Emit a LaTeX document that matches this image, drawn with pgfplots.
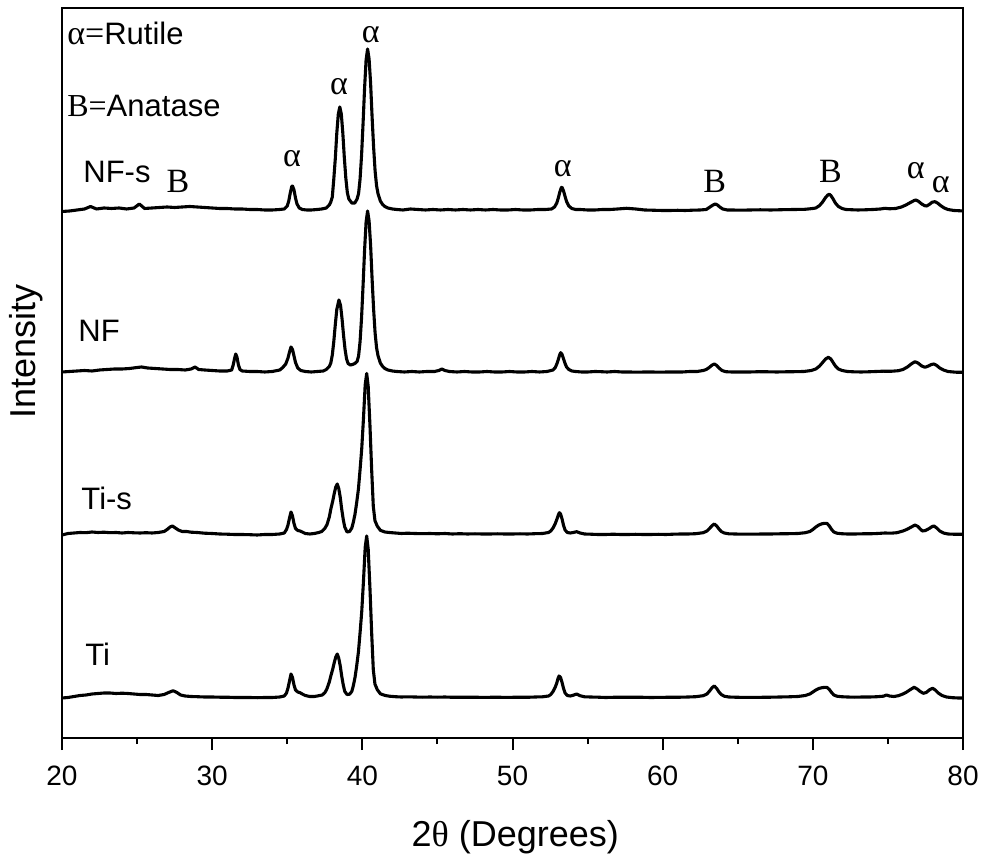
\documentclass[border=0pt]{standalone}
\usepackage{fontspec}
\setmainfont{Liberation Sans}
\newfontfamily\serif{Liberation Serif}
\usepackage{pgfplots}
\pgfplotsset{compat=1.18}
\begin{document}
\begin{tikzpicture}
\begin{axis}[
  scale only axis, width=450.5pt, height=365pt,
  xmin=20, xmax=80, ymin=0, ymax=730,
  xtick={20,30,...,80}, minor xtick={25,35,...,75},
  ytick=\empty,
  xtick pos=left, tick align=outside,
  major tick length=6pt, minor tick length=3pt,
  every tick/.style={black, line width=1pt},
  axis line style={line width=1.1pt},
  /pgf/number format/assume math mode=true,
  xticklabel style={font=\fontsize{14}{16}\selectfont, yshift=-4.5pt},
  xlabel={2{\serif θ} (Degrees)},
  xlabel style={font=\fontsize{18}{21}\selectfont, at={(axis description cs:0.503,-0.148)}, anchor=base},
  ylabel={Intensity},
  ylabel style={font=\fontsize{18}{21}\selectfont, at={(axis description cs:-0.04,0.529)}, anchor=center},
]
% NF-s
\addplot[black, line width=1.55pt, line join=round, mark=none] coordinates {(20.0,526.5)(20.5,527)(21.0,528)(21.5,529)(21.9,531.5)(22.3,529)(22.8,530)(23.3,529.5)(23.8,530)(24.3,529)(24.8,530)(25.15,534)(25.5,529.5)(26.0,530)(26.5,530.5)(27.0,531)(27.5,530.5)(28.0,531)(28.5,531.5)(29.0,531)(29.5,530.5)(30.0,530)(30.5,529.5)(31.0,529.5)(31.5,529)(32.0,529)(32.5,528.5)(33.0,528.5)(33.5,528)(34.0,528)(34.5,528.5)(34.8,529)(35.0,532)(35.1,537)(35.2,545)(35.3,551.5)(35.35,552)(35.45,548)(35.55,540)(35.65,534)(35.8,530)(36.0,528.5)(36.3,528)(36.6,528)(37.0,528.5)(37.3,529)(37.6,530)(37.8,533)(37.9,536)(38.0,541)(38.1,559)(38.2,579.5)(38.3,605)(38.4,624)(38.5,631)(38.6,624)(38.7,605)(38.8,580.5)(38.9,560)(39.0,545.5)(39.1,539)(39.3,535)(39.5,535)(39.65,539)(39.75,544.5)(39.85,559)(39.95,583)(40.05,615)(40.15,650)(40.25,678)(40.35,689)(40.45,679)(40.55,655)(40.65,621)(40.75,591)(40.85,567)(40.95,552)(41.05,544)(41.2,537)(41.35,533.5)(41.5,531.5)(41.7,530)(42.0,529)(42.3,528.5)(42.7,528)(43.2,529)(43.7,528.5)(44.2,528)(44.7,528.5)(45.2,528)(45.7,528.5)(46.2,528)(46.7,528.5)(47.2,528)(47.7,528.5)(48.2,528)(48.7,528.5)(49.2,528)(49.7,528)(50.2,528.5)(50.7,528)(51.2,528)(51.7,528.5)(52.2,528.5)(52.6,529)(52.8,531)(52.95,535)(53.05,540)(53.15,546)(53.25,550.5)(53.3,550.7)(53.4,547)(53.5,541.5)(53.6,536.5)(53.75,532)(53.95,529.5)(54.2,528.5)(54.5,528.5)(55,528)(55.5,528)(56,528.5)(56.5,528.5)(57,529)(57.6,529.7)(58.2,529)(58.8,528)(59.5,527.7)(60,527.5)(60.5,527.5)(61,527.7)(61.5,527.5)(62,527.8)(62.5,528)(62.9,528.5)(63.1,530.5)(63.3,532.5)(63.5,534)(63.65,533)(63.8,531)(64.0,529)(64.3,528)(64.6,528)(65.2,527.8)(65.8,528)(66.5,528.2)(67.2,528)(68,528.3)(68.8,528.5)(69.5,528.7)(70.0,529.5)(70.2,530)(70.45,532.5)(70.65,536)(70.85,540.5)(71.0,543)(71.1,543.7)(71.2,542.5)(71.35,539)(71.5,535)(71.7,531.5)(71.95,529.5)(72.2,528.5)(72.5,528.3)(73,528)(73.5,528.2)(74,528.5)(74.5,529)(74.8,529.7)(75.1,529.2)(75.5,529.5)(75.9,531)(76.2,533)(76.5,535.5)(76.75,537.5)(76.87,538)(77.05,536.5)(77.25,534)(77.45,532.3)(77.58,532)(77.75,533.5)(77.95,535.8)(78.13,536.3)(78.3,535)(78.5,532.5)(78.75,530)(79.0,528.5)(79.4,527.5)(79.8,527.2)(80.0,527)};
% NF
\addplot[black, line width=1.55pt, line join=round, mark=none] coordinates {(20.0,366)(20.5,366.5)(21.0,367)(21.5,367.5)(22.0,367)(22.5,368)(23.0,368.5)(23.5,369)(24.0,369)(24.5,369.5)(25.0,370.5)(25.3,371)(25.7,370)(26.2,369.5)(26.7,369)(27.2,368.5)(27.7,368.5)(28.2,368)(28.6,369)(28.86,371)(29.1,368.5)(29.5,368)(30.0,367.5)(30.5,367)(31.0,367)(31.3,368)(31.4,373)(31.5,380)(31.57,384)(31.65,381)(31.75,373)(31.85,368.5)(32.0,367)(32.5,366.5)(33.0,366.5)(33.5,366)(34.0,366.5)(34.5,368)(34.7,370.5)(34.9,374)(35.05,380)(35.15,386)(35.25,391)(35.35,388.5)(35.45,382)(35.55,375.5)(35.7,370)(35.9,367.5)(36.2,366.5)(36.6,366)(37.0,366.5)(37.4,367)(37.6,368.5)(37.8,371.5)(37.9,375)(38.0,383)(38.1,396.5)(38.2,413.5)(38.3,428.5)(38.44,438)(38.55,432.5)(38.65,419)(38.75,402.5)(38.85,388.5)(38.95,379)(39.05,374.5)(39.2,373)(39.35,373.5)(39.5,374.5)(39.65,376.5)(39.75,382)(39.85,396.5)(39.95,420.7)(40.05,453)(40.15,488)(40.25,516)(40.35,527)(40.45,517)(40.55,493)(40.65,459)(40.75,429)(40.85,405)(40.95,390)(41.05,382)(41.2,375)(41.35,371.6)(41.5,369.5)(41.7,368)(42.0,367)(42.3,366.5)(42.8,366)(43.3,366.5)(43.8,366)(44.3,366.5)(44.8,366.5)(45.1,367.5)(45.3,369)(45.5,367.5)(45.8,366.5)(46.3,366)(46.8,366.5)(47.3,366)(47.8,366)(48.3,366.5)(48.8,366)(49.3,366)(49.8,366.5)(50.3,366)(50.8,366)(51.3,366.5)(51.8,366)(52.3,366.5)(52.7,368)(52.85,370.5)(52.95,374)(53.05,378.5)(53.15,383.5)(53.21,385.3)(53.3,383.5)(53.4,379)(53.5,374.5)(53.6,371)(53.75,368.5)(53.95,367)(54.2,366.5)(54.6,366)(55.0,366)(55.5,366.5)(55.9,366.3)(56.3,366)(56.8,366.5)(57.3,366)(57.8,366)(58.3,365.8)(58.8,366)(59.3,366)(59.8,365.8)(60.3,366)(60.8,366)(61.3,366)(61.8,366.5)(62.3,366.5)(62.7,367.5)(62.9,368.5)(63.1,370.5)(63.3,373)(63.44,374)(63.6,372.5)(63.75,370)(63.95,367.5)(64.2,366.3)(64.6,366)(65.2,366)(65.8,366)(66.4,366.3)(67,366.2)(67.6,366)(68.2,366.2)(68.8,366.3)(69.4,366.5)(69.9,367.5)(70.2,369)(70.45,372)(70.65,375.5)(70.85,379)(71.03,380.7)(71.2,379)(71.35,375.5)(71.5,372)(71.7,369)(71.95,367.5)(72.3,366.5)(72.7,366.2)(73.2,366)(73.7,366.2)(74.2,366.5)(74.7,366.8)(75.2,366.7)(75.7,367.3)(76.0,368.5)(76.3,371)(76.55,374)(76.8,376.3)(77.0,375)(77.25,372)(77.47,370.7)(77.7,372)(77.9,373.5)(78.07,374)(78.25,372.5)(78.45,370)(78.7,368)(79.0,366.5)(79.5,365.8)(80.0,365.7)};
% Ti-s
\addplot[black, line width=1.55pt, line join=round, mark=none] coordinates {(20.0,203)(20.4,204.5)(20.8,205)(21.2,205.5)(21.6,205.3)(22.0,206)(22.4,205.5)(22.8,205.8)(23.2,205.3)(23.6,205.5)(24.0,205)(24.4,205.5)(24.8,205.2)(25.2,205)(25.6,205.3)(26.0,205)(26.4,205.5)(26.8,206.5)(27.0,208.5)(27.2,211)(27.35,212)(27.55,210)(27.75,208)(28.0,206.5)(28.3,206.5)(28.6,205.8)(29.0,205.5)(29.5,204.8)(30.0,204.5)(30.5,204)(31.0,203.8)(31.5,203.5)(32.0,203.5)(32.5,203.3)(33.0,203)(33.5,203.5)(34.0,203.5)(34.5,204)(34.8,205)(34.95,208.5)(35.05,213)(35.15,220)(35.25,226)(35.35,222)(35.45,214.5)(35.55,209.5)(35.7,207.5)(35.85,207)(36.0,206)(36.2,204.5)(36.5,204)(36.8,204.5)(37.1,205.5)(37.3,206.5)(37.5,209.5)(37.65,213.5)(37.8,221)(37.91,229.5)(38.03,237)(38.13,244.5)(38.23,251)(38.33,254)(38.43,249.5)(38.53,240.5)(38.62,229.5)(38.73,218.5)(38.83,211)(38.98,206)(39.15,206.5)(39.3,210)(39.4,215.7)(39.51,223.7)(39.62,235)(39.74,249)(39.85,268.5)(39.96,289.3)(40.07,318)(40.19,353.3)(40.29,364.5)(40.39,351.7)(40.51,311.7)(40.62,268.5)(40.73,231.7)(40.84,217.3)(41.0,211.7)(41.2,207.7)(41.5,206)(41.8,205.5)(42.2,205)(42.6,204.5)(43.0,204.8)(43.5,204.5)(44.0,204.3)(44.5,204.5)(45.0,204.2)(45.5,204.5)(46.0,204)(46.5,204.3)(47.0,204)(47.5,204.2)(48.0,204)(48.5,204)(49.0,204.2)(49.5,204)(50.0,204)(50.5,204.2)(51,204)(51.5,204.3)(52,204.5)(52.4,205.5)(52.55,207)(52.7,210)(52.85,214.5)(52.95,218.5)(53.05,223)(53.12,225.3)(53.2,224)(53.3,219)(53.4,212.5)(53.5,208)(53.65,205.5)(53.85,205)(54.05,205.5)(54.27,206.3)(54.5,205)(54.8,204)(55.2,203.8)(55.7,203.5)(56.2,203.5)(56.7,203.8)(57.2,203.5)(57.7,203.5)(58.2,203.7)(58.7,203.5)(59.2,203.5)(59.7,203.7)(60.2,203.5)(60.7,203.8)(61.2,204)(61.7,204)(62.2,204.3)(62.7,205.3)(62.95,207)(63.15,210)(63.3,212.5)(63.44,214)(63.6,212)(63.75,209)(63.9,206.5)(64.1,205)(64.4,204.2)(64.8,204)(65.4,203.8)(66,203.8)(66.6,204)(67.2,204)(67.8,204.2)(68.4,204.3)(69.0,204.5)(69.5,205.3)(69.8,206.5)(70.0,208.5)(70.2,211)(70.4,213)(70.6,214.2)(70.8,214.7)(70.95,214.5)(71.1,212)(71.25,208.5)(71.4,206)(71.6,204.8)(71.9,204.3)(72.3,204)(72.8,204)(73.3,204.2)(73.8,204.2)(74.3,204.5)(74.8,205)(75.2,204.8)(75.6,205.3)(76.0,207)(76.25,208.5)(76.5,210.5)(76.8,213)(77.0,211.5)(77.15,209)(77.3,207)(77.5,207.5)(77.75,209.5)(77.95,211.5)(78.07,212)(78.25,210)(78.45,207)(78.7,205)(79.0,204)(79.5,203.7)(80,203.8)};
% Ti
\addplot[black, line width=1.55pt, line join=round, mark=none] coordinates {(20.0,40)(20.4,40.5)(20.8,41.5)(21.2,42.5)(21.6,43)(22.0,44)(22.4,44.5)(22.8,45)(23.2,45)(23.6,44.5)(24.0,44.8)(24.4,44.5)(24.8,44)(25.2,43.5)(25.6,43.5)(26.0,43)(26.4,42.5)(26.8,43.5)(27.1,45.5)(27.4,47.3)(27.65,45.5)(27.9,43)(28.2,42)(28.6,41.5)(29.0,41.3)(29.5,41)(30.0,41)(30.5,40.8)(31.0,40.8)(31.5,40.5)(32.0,40.5)(32.5,40.5)(33.0,40.3)(33.5,40.5)(34.0,40.5)(34.5,41)(34.8,42)(34.95,45)(35.05,50)(35.15,57)(35.25,64)(35.35,60.5)(35.45,53)(35.55,48)(35.7,46)(35.85,45.3)(36.0,44)(36.2,42.5)(36.5,41.5)(36.8,41.5)(37.0,42)(37.33,43)(37.5,45.3)(37.63,48.7)(37.8,56)(37.91,62.5)(38.03,69)(38.13,75.4)(38.23,81)(38.33,84)(38.43,79.7)(38.53,72)(38.62,62.5)(38.73,53)(38.83,46.6)(38.98,43.5)(39.15,43.8)(39.3,46.6)(39.4,52.3)(39.51,60.3)(39.62,71.6)(39.74,86)(39.85,105.4)(39.96,126.3)(40.07,155.3)(40.19,190.7)(40.29,202)(40.39,189)(40.51,148.9)(40.62,105.4)(40.73,68.4)(40.84,53.9)(41.0,48.2)(41.2,44.2)(41.5,42.6)(41.8,41.8)(42.2,41.3)(42.6,41)(43.0,41.2)(43.5,41)(44.0,40.8)(44.5,41)(45.0,40.8)(45.5,41)(46.0,40.7)(46.5,40.8)(47.0,40.7)(47.5,40.8)(48.0,40.6)(48.5,40.7)(49.0,40.8)(49.5,40.6)(50.0,40.7)(50.5,40.8)(51.0,40.7)(51.5,41)(52.0,41.2)(52.4,42)(52.55,43.5)(52.7,46.5)(52.85,51)(52.95,55)(53.03,59.5)(53.1,62)(53.2,60.5)(53.3,55.5)(53.4,49.5)(53.5,45)(53.65,42.5)(53.85,42)(54.05,42.8)(54.27,44)(54.5,42.3)(54.8,41.2)(55.2,41)(55.7,40.8)(56.2,40.5)(56.7,40.7)(57.2,40.8)(57.7,40.7)(58.2,40.8)(58.7,40.7)(59.2,40.5)(59.7,40.6)(60.2,40.7)(60.7,40.8)(61.2,40.8)(61.7,41)(62.2,41.3)(62.7,42.3)(62.95,44)(63.15,47.5)(63.3,50.5)(63.44,52)(63.6,49.5)(63.75,46)(63.9,43.5)(64.1,41.8)(64.4,41)(64.8,40.8)(65.4,40.6)(66,40.7)(66.6,40.7)(67.2,40.8)(67.8,41)(68.4,41.2)(69.0,41.5)(69.5,42.5)(69.8,44)(70.0,46)(70.2,48)(70.4,49.5)(70.6,50.3)(70.8,50.7)(70.95,50.5)(71.1,48.5)(71.25,45.5)(71.4,43)(71.6,41.8)(71.9,41.3)(72.3,41)(72.8,40.8)(73.3,41)(73.8,41)(74.3,41.3)(74.7,41.8)(74.9,43)(75.1,42)(75.4,41.5)(75.7,42.3)(76.0,44)(76.2,45.5)(76.45,48)(76.74,50.7)(76.95,49)(77.15,46.5)(77.36,44.7)(77.55,45.5)(77.8,48.5)(77.98,49.7)(78.15,48)(78.35,45)(78.6,42.5)(78.9,41)(79.3,40.3)(79.7,40)(80.0,40)};
% labels
\begin{scope}[every node/.style={font=\fontsize{15.5}{18}\selectfont, inner sep=0pt}]
\node[anchor=base west] at (axis cs:20.33,693) {{\serif\fontsize{17}{18}\selectfont α=}Rutile};
\node[anchor=base west] at (axis cs:20.33,621) {{\serif\fontsize{16}{18}\selectfont B=}Anatase};
\node[anchor=base west] at (axis cs:21.4,555) {NF-s};
\node[anchor=base west] at (axis cs:21.07,396) {NF};
\node[anchor=base west] at (axis cs:21.27,228) {Ti-s};
\node[anchor=base west] at (axis cs:21.53,73) {Ti};
\end{scope}
\begin{scope}[every node/.style={font=\serif\fontsize{17}{18}\selectfont, inner sep=0pt, anchor=base}]
\node at (axis cs:27.72,545) {B};
\node at (axis cs:35.32,571) {α};
\node at (axis cs:38.45,643) {α};
\node at (axis cs:40.56,695) {α};
\node at (axis cs:53.35,561) {α};
\node at (axis cs:63.46,545) {B};
\node at (axis cs:71.18,555) {B};
\node at (axis cs:76.86,559) {α};
\node at (axis cs:78.52,545) {α};
\end{scope}
\end{axis}
\pgfresetboundingbox
\path ([shift={(-31pt,-61pt)}]current axis.south west) rectangle ([shift={(9.5pt,4pt)}]current axis.north east);
\end{tikzpicture}
\end{document}
